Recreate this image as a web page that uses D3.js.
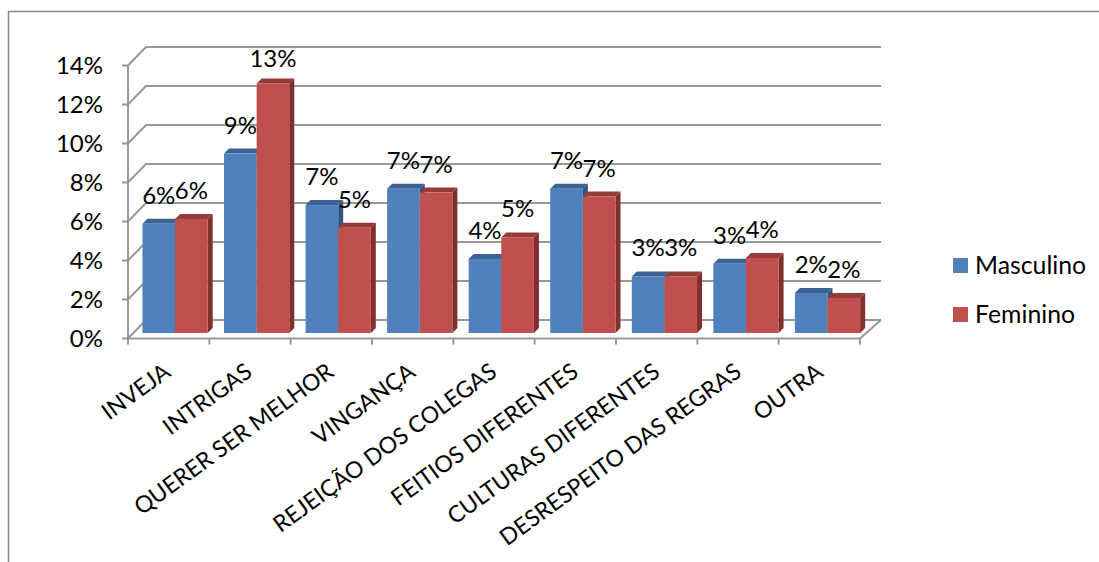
<!DOCTYPE html>
<html><head><meta charset="utf-8">
<style>html,body{margin:0;padding:0;background:#fff}svg{display:block}text{font-family:Lato,"Open Sans",sans-serif;fill:#000}</style>
<script src="https://cdn.jsdelivr.net/npm/d3@7"></script></head>
<body><script>
const categories=["INVEJA","INTRIGAS","QUERER SER MELHOR","VINGANÇA","REJEIÇÃO DOS COLEGAS","FEITIOS DIFERENTES","CULTURAS DIFERENTES","DESRESPEITO DAS REGRAS","OUTRA"];
const masculino=[5.6,9.2,6.56,7.4,3.8,7.4,2.9,3.55,2.05];
const feminino=[5.85,12.8,5.4,7.2,4.9,7.0,2.9,3.85,1.8];
const labelsMasculino=["6%","9%","7%","7%","4%","7%","3%","3%","2%"];
const labelsFeminino=["6%","13%","5%","7%","5%","7%","3%","4%","2%"];
const seriesNames=["Masculino","Feminino"];
const yTicks=[0,2,4,6,8,10,12,14];

const W=1099,H=562;
const svg=d3.select("body").append("svg").attr("width",W).attr("height",H);
const y=d3.scaleLinear().domain([0,14]).range([338.5,65.5]);
const axisX=d3.scaleLinear().domain([0,categories.length]).range([128,860]);
const x0=d3.scaleBand().domain(categories).range([134.3,868.3]).paddingInner(.2).paddingOuter(.1);
const x1=d3.scaleBand().domain(seriesNames).range([0,x0.bandwidth()]);
const colors=d3.scaleOrdinal().domain(seriesNames).range(["#4F81BD","#C0504D"]);
const tops=d3.scaleOrdinal().domain(seriesNames).range(["#3B6291","#943C3A"]);
const sides=d3.scaleOrdinal().domain(seriesNames).range(["#305680","#7F302E"]);
const grid="#989898",dx=18,dy=18.5,by=5.5,d=5;

svg.append("path").attr("d",`M8.5,${H}V11.5H${W}`).attr("fill","none").attr("stroke","#868686").attr("stroke-width",1.5);

// walls
const gw=svg.append("g").attr("fill","none").attr("stroke",grid).attr("stroke-width",2);
yTicks.forEach(t=>{
  gw.append("path").attr("d",`M122,${y(t)}H128L${128+dx},${y(t)-dy}H881`);
});
gw.append("path").attr("d",`M128,${y(0)}V${y(14)}`);
gw.append("path").attr("d",`M128,${y(0)}H860L881,${y(0)-dy}`);
d3.range(categories.length+1).forEach(i=>{
  gw.append("path").attr("d",`M${axisX(i)},${y(0)}V${y(0)+6}`);
});

// y labels
svg.append("g").selectAll("text").data(yTicks).join("text")
  .attr("x",103).attr("y",t=>y(t)+8.5).attr("text-anchor","end").attr("font-size",24)
  .text(t=>t+"%");

// bars
const rows=categories.flatMap((c,i)=>[
  {c,s:seriesNames[0],v:masculino[i],l:labelsMasculino[i]},
  {c,s:seriesNames[1],v:feminino[i],l:labelsFeminino[i]}]);
const px=r=>x0(r.c)+x1(r.s), pw=x1.bandwidth(), py=r=>y(r.v)-by, base=y(0)-by;
const gb=svg.append("g");
rows.forEach(r=>{
  const g=gb.append("g"),X=px(r),T=py(r);
  g.append("path").attr("fill",sides(r.s))
    .attr("d",`M${X+pw},${T}L${X+pw+d},${T-d}V${base-d}L${X+pw},${base}Z`);
  g.append("path").attr("fill",tops(r.s))
    .attr("d",`M${X},${T}L${X+d},${T-d}H${X+pw+d}L${X+pw},${T}Z`);
  g.append("rect").attr("x",X).attr("y",T).attr("width",pw).attr("height",base-T).attr("fill",colors(r.s));
});

// value labels
svg.append("g").selectAll("text").data(rows).join("text")
  .attr("x",r=>px(r)+pw/2).attr("y",r=>Math.max(py(r)-20,67))
  .attr("text-anchor","middle").attr("font-size",24)
  .text(r=>r.l);

// category labels
svg.append("g").selectAll("text").data(categories).join("text")
  .attr("text-anchor","end").attr("font-size",23)
  .attr("transform",c=>`translate(${x0(c)+x0.bandwidth()/2-3},${375}) rotate(-36)`)
  .text(c=>c);

// legend
const lg=svg.append("g").selectAll("g").data(seriesNames).join("g")
  .attr("transform",(s,i)=>`translate(953,${258+i*49})`);
lg.append("rect").attr("width",15).attr("height",15).attr("fill",s=>colors(s));
lg.append("text").attr("x",22).attr("y",16).attr("font-size",24.8).text(s=>s);
</script></body></html>
